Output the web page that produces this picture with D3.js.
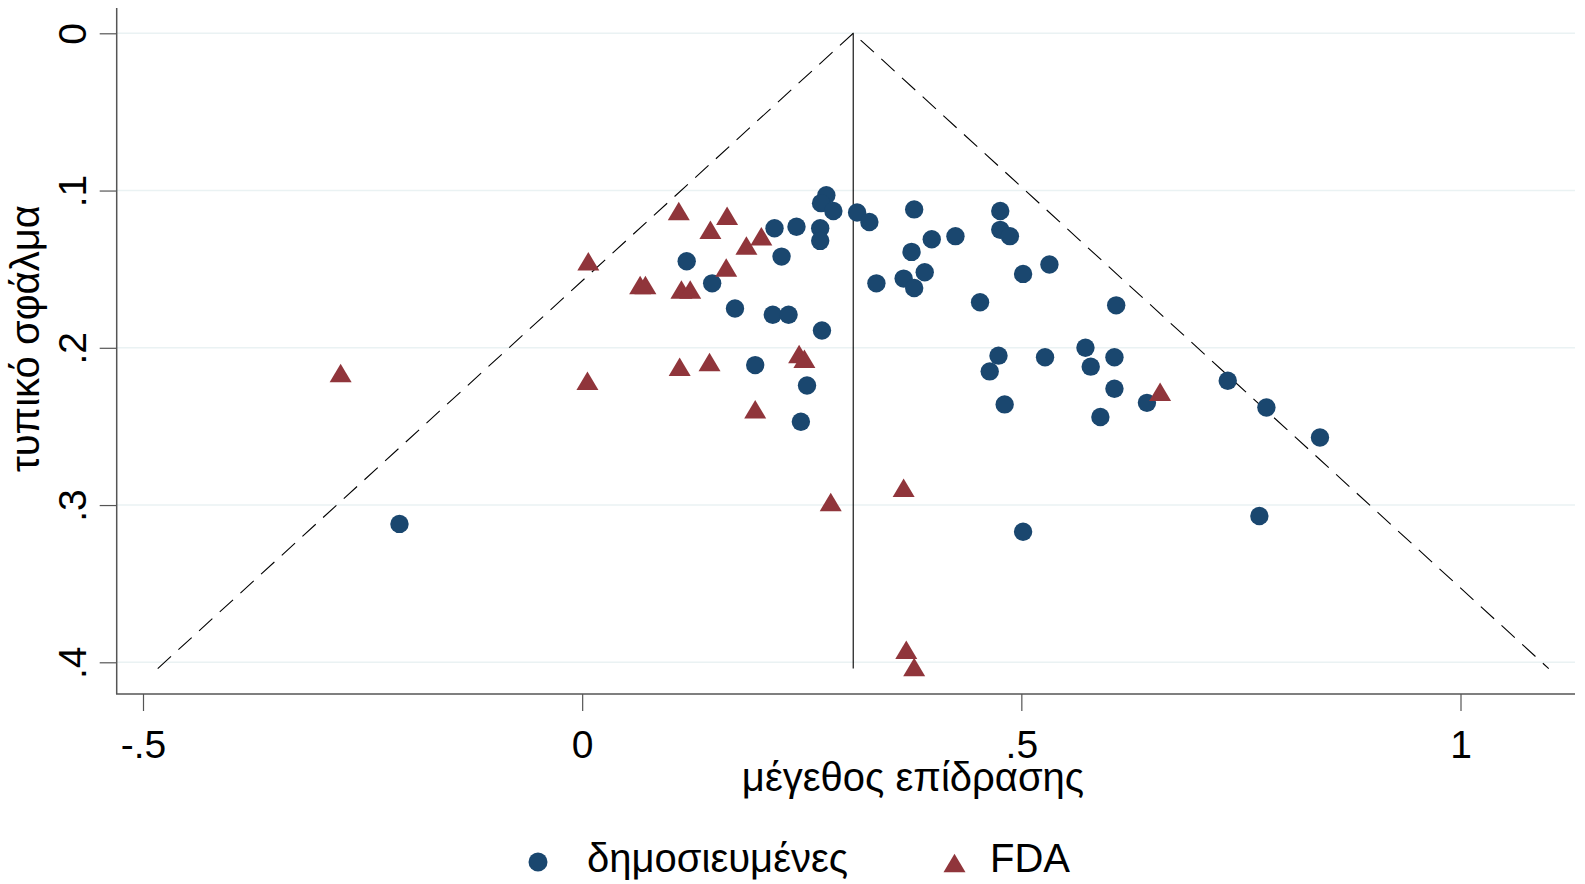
<!DOCTYPE html>
<html>
<head>
<meta charset="utf-8">
<script src="https://cdn.jsdelivr.net/npm/d3@7"></script>
<style>
    body { margin: 0; background: #fff; }
    text { font-family: "Liberation Sans", Arial, sans-serif; fill: #000; }
</style>
</head>
<body>
<div id="my_dataviz"></div>
<script>
// published studies (effect size, standard error)
var pubEffect = [0.278, 0.272, 0.286, 0.313, 0.327, 0.378, 0.476, 0.476, 0.487, 0.219,
    0.244, 0.271, 0.271, 0.227, 0.119, 0.398, 0.425, 0.375, 0.390, 0.366,
    0.378, 0.335, 0.502, 0.532, 0.453, 0.148, 0.174, 0.217, 0.235, 0.273,
    0.608, 0.197, 0.256, 0.249, -0.208, 0.474, 0.464, 0.527, 0.573, 0.579,
    0.606, 0.606, 0.643, 0.481, 0.590, 0.735, 0.779, 0.840, 0.771, 0.502];
var pubSE = [0.103, 0.108, 0.113, 0.114, 0.120, 0.112, 0.113, 0.125, 0.129, 0.124,
    0.123, 0.124, 0.132, 0.142, 0.145, 0.131, 0.129, 0.139, 0.152, 0.156,
    0.162, 0.159, 0.153, 0.147, 0.171, 0.159, 0.175, 0.179, 0.179, 0.189,
    0.173, 0.211, 0.224, 0.247, 0.312, 0.205, 0.215, 0.206, 0.200, 0.212,
    0.206, 0.226, 0.235, 0.236, 0.244, 0.221, 0.238, 0.257, 0.307, 0.317];

// FDA studies
var fdaEffect = [0.110, 0.165, 0.146, 0.204, 0.187, 0.007, 0.164, 0.066, 0.072, 0.113,
    0.123, -0.275, 0.006, 0.111, 0.145, 0.247, 0.253, 0.197, 0.658, 0.366,
    0.283, 0.369, 0.378];
var fdaSE = [0.113, 0.116, 0.125, 0.129, 0.135, 0.145, 0.149, 0.160, 0.160, 0.163,
    0.163, 0.216, 0.221, 0.212, 0.209, 0.204, 0.207, 0.239, 0.228, 0.289,
    0.298, 0.392, 0.403];

// pooled estimate (vertical line)
var theta = 0.3086;

var xTicks = [-0.5, 0, 0.5, 1];
var xTickLabels = ["-.5", "0", ".5", "1"];
var yTicks = [0, 0.1, 0.2, 0.3, 0.4];
var yTickLabels = ["0", ".1", ".2", ".3", ".4"];

var seriesNames = ["δημοσιευμένες", "FDA"];
var xTitle = "μέγεθος επίδρασης";
var yTitle = "τυπικό σφάλμα";

var navy = "#1a476f",
    maroon = "#90353b",
    fontSize = 39,
    titleSize = 40;

var width = 1585,
    height = 884;

// plot region
var plot = { left: 116.7, right: 1575, top: 8, bottom: 694 };

var svg = d3.select("#my_dataviz")
    .append("svg")
    .attr("width", width)
    .attr("height", height);

svg.append("rect").attr("width", width).attr("height", height).attr("fill", "#fff");

var x = d3.scaleLinear()
    .domain([-0.5, 1])
    .range([143, 1460.5]);
var y = d3.scaleLinear()
    .domain([0, 0.4])
    .range([33.3, 662.3]);

// grid lines
svg.append("g")
    .selectAll("line")
    .data(yTicks)
    .enter()
    .append("line")
    .attr("x1", plot.left)
    .attr("x2", plot.right)
    .attr("y1", d => y(d))
    .attr("y2", d => y(d))
    .attr("stroke", "#eaf2f3")
    .attr("stroke-width", 1.5);

// axes
var axisColor = "#555";
var xAxis = svg.append("g")
    .attr("transform", "translate(0," + plot.bottom + ")")
    .call(d3.axisBottom(x)
        .tickValues(xTicks)
        .tickFormat((d, i) => xTickLabels[i])
        .tickSize(17)
        .tickPadding(19));
xAxis.select(".domain").remove();
xAxis.selectAll("line").attr("stroke", axisColor).attr("stroke-width", 1.2);
xAxis.selectAll("text")
    .attr("font-size", fontSize)
    .attr("font-family", "Liberation Sans, Arial, sans-serif")
    .attr("fill", "#000");
xAxis.append("line")
    .attr("x1", plot.left - 0.7)
    .attr("x2", plot.right)
    .attr("stroke", axisColor)
    .attr("stroke-width", 1.5);

var yAxis = svg.append("g")
    .attr("transform", "translate(" + plot.left + ",0)")
    .call(d3.axisLeft(y)
        .tickValues(yTicks)
        .tickFormat((d, i) => yTickLabels[i])
        .tickSize(17));
yAxis.select(".domain").remove();
yAxis.selectAll("line").attr("stroke", axisColor).attr("stroke-width", 1.2);
yAxis.selectAll("text")
    .attr("x", null)
    .attr("dy", null)
    .attr("text-anchor", "middle")
    .attr("transform", "translate(-30.7,0) rotate(-90)")
    .attr("font-size", fontSize)
    .attr("font-family", "Liberation Sans, Arial, sans-serif")
    .attr("fill", "#000");
yAxis.append("line")
    .attr("y1", plot.top)
    .attr("y2", plot.bottom)
    .attr("stroke", axisColor)
    .attr("stroke-width", 1.5);

// axis titles
svg.append("text")
    .attr("x", 913)
    .attr("y", 791)
    .attr("text-anchor", "middle")
    .attr("font-size", titleSize)
    .text(xTitle);
svg.append("text")
    .attr("transform", "translate(38.5,338.6) rotate(-90)")
    .attr("text-anchor", "middle")
    .attr("font-size", titleSize)
    .text(yTitle);

// funnel: pseudo 95% limits and pooled estimate
var seMax = d3.max(pubSE.concat(fdaSE)) + 0.001;
var line = d3.line()
    .x(d => x(d[0]))
    .y(d => y(d[1]));
var funnel = svg.append("g");
funnel.append("path")
    .datum([[theta - 1.96 * seMax, seMax], [theta, 0], [theta + 1.96 * seMax, seMax]])
    .attr("d", line)
    .attr("fill", "none")
    .attr("stroke", "#000")
    .attr("stroke-width", 1.1)
    .attr("stroke-dasharray", "18,10");
funnel.append("path")
    .datum([[theta, 0], [theta, seMax]])
    .attr("d", line)
    .attr("fill", "none")
    .attr("stroke", "#000")
    .attr("stroke-width", 1.1);

// markers
var triPath = "M0,-9.25L11,9.25L-11,9.25Z";

var pubData = pubEffect.map((d, i) => ({ effect: d, se: pubSE[i] }));
var fdaData = fdaEffect.map((d, i) => ({ effect: d, se: fdaSE[i] }));

svg.append("g")
    .selectAll("circle")
    .data(pubData)
    .enter()
    .append("circle")
    .attr("cx", d => x(d.effect))
    .attr("cy", d => y(d.se))
    .attr("r", 9.2)
    .attr("fill", navy);

svg.append("g")
    .selectAll("path")
    .data(fdaData)
    .enter()
    .append("path")
    .attr("d", triPath)
    .attr("transform", d => "translate(" + x(d.effect) + "," + y(d.se) + ")")
    .attr("fill", maroon);

// legend
var legend = svg.append("g");
legend.append("circle")
    .attr("cx", 538)
    .attr("cy", 862)
    .attr("r", 9.5)
    .attr("fill", navy);
legend.append("text")
    .attr("x", 587)
    .attr("y", 872)
    .attr("font-size", titleSize)
    .text(seriesNames[0]);
legend.append("path")
    .attr("d", triPath)
    .attr("transform", "translate(954.5,863)")
    .attr("fill", maroon);
legend.append("text")
    .attr("x", 990)
    .attr("y", 872)
    .attr("font-size", titleSize)
    .text(seriesNames[1]);
</script>
</body>
</html>
